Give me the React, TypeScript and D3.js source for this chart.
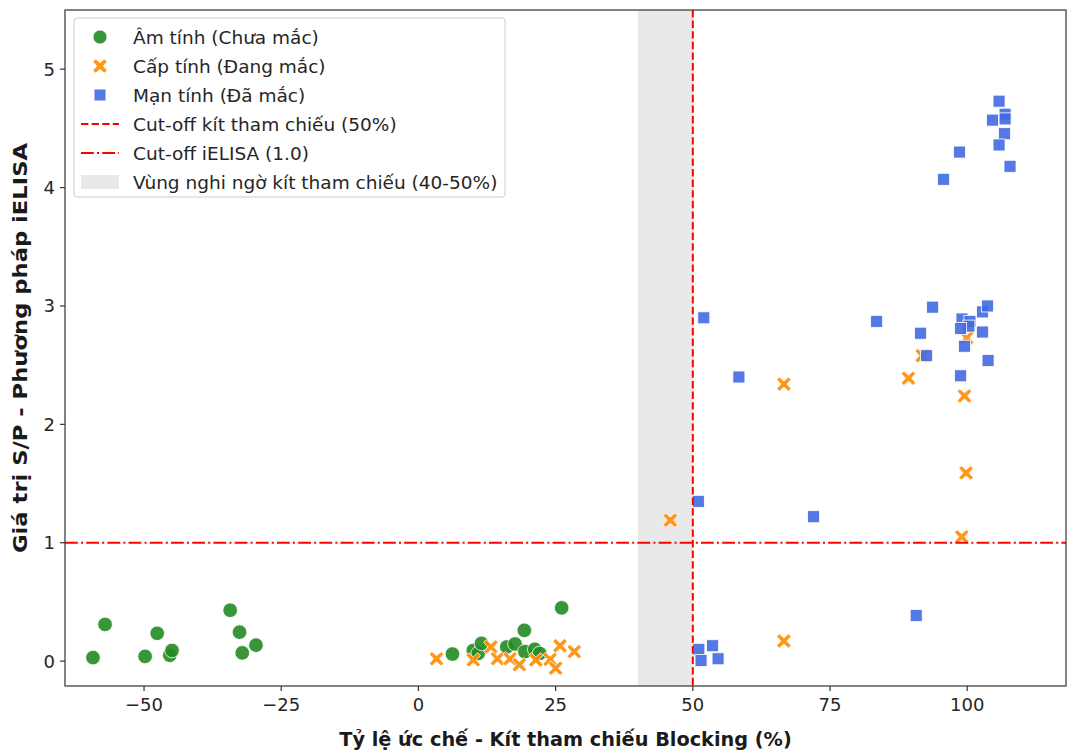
import React from "react";
import * as d3 from "d3";

const negX = [-59.3, -57.1, -49.8, -47.6, -45.3, -44.9, -34.3, -32.6, -32.1, -29.6, 6.2, 10.0, 10.9, 11.5, 16.1, 17.6, 19.3, 19.4, 21.2, 22.1, 26.1];
const negY = [0.03, 0.31, 0.04, 0.235, 0.05, 0.09, 0.43, 0.245, 0.07, 0.135, 0.06, 0.09, 0.065, 0.15, 0.12, 0.145, 0.26, 0.08, 0.10, 0.065, 0.45];

const acuteX = [3.3, 10.0, 13.2, 14.4, 16.7, 18.4, 21.4, 24.0, 25.0, 25.8, 28.4, 45.9, 66.6, 66.6, 89.3, 91.8, 99.0, 99.5, 99.8, 99.9];
const acuteY = [0.02, 0.01, 0.12, 0.02, 0.02, -0.03, 0.01, 0.015, -0.06, 0.13, 0.08, 1.19, 2.34, 0.17, 2.39, 2.58, 1.05, 2.24, 1.59, 2.73];

const chronicX = [105.8, 106.9, 104.6, 106.9, 106.8, 105.8, 107.8, 98.6, 95.7, 83.5, 93.7, 91.5, 92.6, 99.05, 100.5, 100.3, 98.8, 102.8, 103.7, 102.8, 99.5, 103.8, 98.8, 52.0, 58.4, 51.0, 72.0, 90.7, 51.1, 51.5, 53.6, 54.6];
const chronicY = [4.73, 4.62, 4.57, 4.58, 4.455, 4.36, 4.18, 4.30, 4.07, 2.87, 2.99, 2.77, 2.58, 2.89, 2.87, 2.83, 2.81, 2.95, 3.0, 2.78, 2.66, 2.54, 2.41, 2.90, 2.40, 1.35, 1.22, 0.385, 0.10, 0.005, 0.13, 0.02];

const xTicks = [-50, -25, 0, 25, 50, 75, 100];
const yTicks = [0, 1, 2, 3, 4, 5];

const legendLabels = [
  "Âm tính (Chưa mắc)",
  "Cấp tính (Đang mắc)",
  "Mạn tính (Đã mắc)",
  "Cut-off kít tham chiếu (50%)",
  "Cut-off iELISA (1.0)",
  "Vùng nghi ngờ kít tham chiếu (40-50%)",
];

const GREEN = "#228B22";
const ORANGE = "#FF8C00";
const BLUE = "#4169E1";
const FONT = "DejaVu Sans, sans-serif";

const L = 65, R = 1066, T = 10, B = 686;

function xMarkPath(cx: number, cy: number, s: number) {
  const w = s * 0.36;
  const pts: [number, number][] = [
    [-s + w, -s], [0, -w * 1.2], [s - w, -s], [s, -s + w], [w * 1.2, 0], [s, s - w],
    [s - w, s], [0, w * 1.2], [-s + w, s], [-s, s - w], [-w * 1.2, 0], [-s, -s + w],
  ];
  return "M" + pts.map(([x, y]) => `${cx + x},${cy + y}`).join("L") + "Z";
}

export default function App() {
  const x = d3.scaleLinear().domain([-64.4, 118.0]).range([L, R]);
  const y = d3.scaleLinear().domain([-0.21, 5.5]).range([B, T]);

  const legendRows = [37, 66, 95, 124, 153, 182];

  return (
    <svg width={1067} height={751} style={{ position: "absolute", left: 0, top: 0, background: "#fff" }} fontFamily={FONT}>
      <rect x={0} y={0} width={1067} height={751} fill="#fff" />
      <rect x={x(40)} y={T} width={x(50) - x(40)} height={B - T} fill="#d3d3d3" fillOpacity={0.5} />
      <g>
        {negX.map((v, i) => (
          <circle key={"g" + i} cx={x(v)} cy={y(negY[i])} r={7.3} fill={GREEN} fillOpacity={0.9} stroke="#fff" strokeWidth={0.8} />
        ))}
        {acuteX.map((v, i) => (
          <path key={"o" + i} d={xMarkPath(x(v), y(acuteY[i]), 7.2)} fill={ORANGE} fillOpacity={0.9} stroke="#fff" strokeWidth={0.8} />
        ))}
        {chronicX.map((v, i) => (
          <rect key={"b" + i} x={x(v) - 6} y={y(chronicY[i]) - 6} width={12} height={12} fill={BLUE} fillOpacity={0.9} stroke="#fff" strokeWidth={0.8} />
        ))}
      </g>
      <line x1={x(50)} x2={x(50)} y1={T} y2={B} stroke="red" strokeWidth={2} strokeDasharray="7.4,3.2" />
      <line x1={L} x2={R} y1={y(1)} y2={y(1)} stroke="red" strokeWidth={2} strokeDasharray="12.8,3.2,2,3.2" />
      <rect x={L} y={T} width={R - L} height={B - T} fill="none" stroke="#333" strokeWidth={1.2} />
      {xTicks.map((t) => (
        <g key={"xt" + t} transform={`translate(${x(t)},${B})`}>
          <line y1={0} y2={5} stroke="#333" strokeWidth={1.2} />
          <text y={25} textAnchor="middle" fontSize={18} fill="#262626">{t < 0 ? "\u2212" + Math.abs(t) : t}</text>
        </g>
      ))}
      {yTicks.map((t) => (
        <g key={"yt" + t} transform={`translate(${L},${y(t)})`}>
          <line x1={0} x2={-5} stroke="#333" strokeWidth={1.2} />
          <text x={-10} dy="0.36em" textAnchor="end" fontSize={18} fill="#262626">{t}</text>
        </g>
      ))}
      <text x={(L + R) / 2} y={746} textAnchor="middle" fontSize={19.3} fontWeight="bold" fill="#1a1a1a">Tỷ lệ ức chế - Kít tham chiếu Blocking (%)</text>
      <text transform={`translate(27,${(T + B) / 2}) rotate(-90)`} textAnchor="middle" fontSize={19.5} fontWeight="bold" fill="#1a1a1a" textLength={410} lengthAdjust="spacingAndGlyphs">Giá trị S/P - Phương pháp iELISA</text>
      <rect x={74} y={18} width={431} height={179} rx={3} fill="#fff" fillOpacity={0.8} stroke="#ccc" strokeWidth={1} />
      <circle cx={100} cy={legendRows[0]} r={7} fill={GREEN} fillOpacity={0.9} stroke="#fff" strokeWidth={0.8} />
      <path d={xMarkPath(100, legendRows[1], 6.8)} fill={ORANGE} fillOpacity={0.9} />
      <rect x={94.5} y={legendRows[2] - 5.5} width={11} height={11} fill={BLUE} fillOpacity={0.9} />
      <line x1={81} x2={119} y1={legendRows[3]} y2={legendRows[3]} stroke="red" strokeWidth={2} strokeDasharray="7.4,3.2" />
      <line x1={81} x2={119} y1={legendRows[4]} y2={legendRows[4]} stroke="red" strokeWidth={2} strokeDasharray="12.8,3.2,2,3.2" />
      <rect x={81} y={legendRows[5] - 7} width={38} height={14} fill="#d3d3d3" fillOpacity={0.5} />
      {legendLabels.map((s, i) => (
        <text key={"l" + i} x={133} y={legendRows[i]} dy="0.36em" fontSize={18.5} fill="#262626">{s}</text>
      ))}
    </svg>
  );
}
